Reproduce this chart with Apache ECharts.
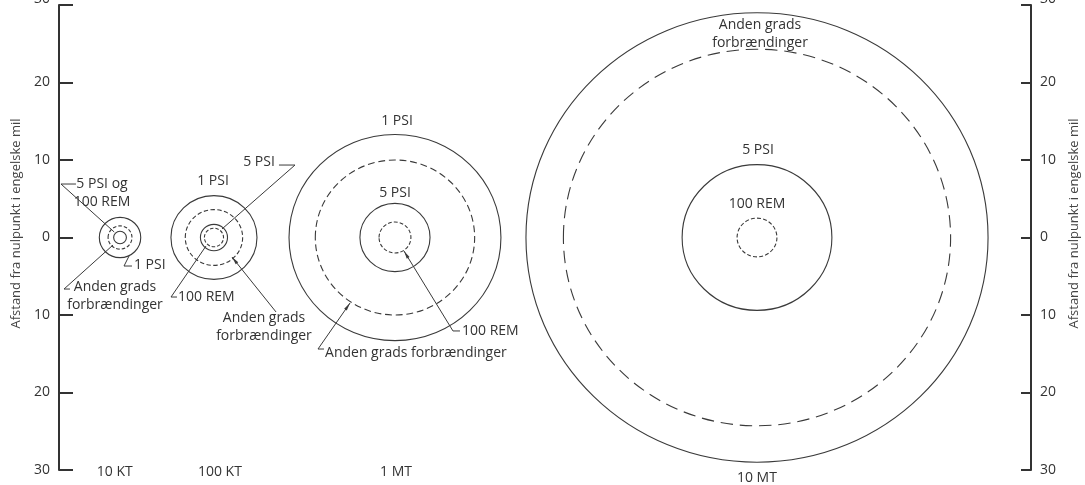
<!DOCTYPE html>
<html>
<head>
<meta charset="utf-8">
<script src="https://cdn.jsdelivr.net/npm/echarts@6/dist/echarts.min.js"></script>
<style>
html, body { margin: 0; padding: 0; background: #fff; }
#chart { width: 1085px; height: 485px; }
</style>
</head>
<body>
<div id="chart"></div>
<script>
// ladningsstørrelser og deres centre (engelske mil fra venstre akse)
const yields = ['10 KT', '100 KT', '1 MT', '10 MT'];
const centers = [7.66, 19.45, 42.17, 87.61];
const labelPos = [7.0, 20.2, 42.3, 87.6];

// radier i engelske mil (null = ingen ring)
const psi1 = [2.6, 5.4, 13.3, 29.0];     // 1 PSI, fuld streg
const burns = [1.5, 3.6, 10.0, 24.3];    // anden grads forbrændinger, stiplet
const psi5 = [0.8, 1.7, 4.4, 9.4];       // 5 PSI, fuld streg
const rem100 = [null, 1.2, 2.0, 2.5];    // 100 REM, stiplet (10 KT: falder sammen med 5 PSI)

const axisName = 'Afstand fra nulpunkt i engelske mil';

// tekster med henvisningsstreger, i mil
const notes = [
	{ text: '5 PSI og\n100 REM', at: [5.40, 5.68], align: 'center', leader: [[2.13, 6.90], [0.25, 6.90], [6.93, 0.71]] },
	{ text: '1 PSI', at: [9.41, -3.55], align: 'left', leader: [[8.79, -2.39], [8.16, -3.68], [9.16, -3.68]] },
	{ text: 'Anden grads\nforbrændinger', at: [7.03, -7.61], align: 'center', leader: [[6.78, -0.97], [0.63, -6.65], [1.38, -6.65]] },
	{ text: '1 PSI', at: [19.33, 7.29], align: 'center' },
	{ text: '5 PSI', at: [25.10, 9.74], align: 'center', leader: [[27.61, 9.35], [29.62, 9.35], [20.46, 1.10]] },
	{ text: '100 REM', at: [14.94, -7.68], align: 'left', leader: [[18.45, -1.10], [14.06, -7.68], [14.81, -7.68]] },
	{ text: 'Anden grads\nforbrændinger', at: [25.73, -11.61], align: 'center', leader: [[21.71, -2.52], [27.24, -9.61]], arrow: true },
	{ text: '1 PSI', at: [42.43, 15.03], align: 'center' },
	{ text: '5 PSI', at: [42.17, 5.74], align: 'center' },
	{ text: '100 REM', at: [50.58, -12.06], align: 'left', leader: [[43.3, -1.74], [49.45, -12.06], [50.33, -12.06]], arrow: true },
	{ text: 'Anden grads forbrændinger', at: [33.39, -14.90], align: 'left', leader: [[36.53, -8.45], [32.51, -14.39], [33.26, -14.39]], arrow: true },
	{ text: 'Anden grads\nforbrændinger', at: [87.99, 26.32], align: 'center' },
	{ text: '5 PSI', at: [87.74, 11.29], align: 'center' },
	{ text: '100 REM', at: [87.61, 4.32], align: 'center' }
];

const ink = '#333';
const font = '"Open Sans", sans-serif';

// ringe: [centrum, radius, stiplet 0/1]
const rings = [];
[[psi1, 0], [burns, 1], [psi5, 0], [rem100, 1]].forEach(([radii, dashed]) => {
	radii.forEach((r, i) => {
		if (r != null) rings.push([centers[i], r, dashed]);
	});
});

const renderRing = (params, api) => {
	const c = api.coord([api.value(0), 0]);
	const s = api.size([api.value(1), api.value(1)]);
	const dashed = api.value(2) === 1;
	const d = 3 + s[1] * 0.05;
	return {
		type: 'ellipse',
		shape: { cx: c[0], cy: c[1], rx: s[0], ry: s[1] },
		style: { fill: null, stroke: '#3a3a3a', lineWidth: 1.1, lineDash: dashed ? [d, d * 0.55] : null }
	};
};

const renderNote = (params, api) => {
	const n = notes[params.dataIndex];
	const p = api.coord(n.at);
	const children = [{
		type: 'text', x: p[0], y: p[1],
		style: { text: n.text, fill: ink, font: '14px ' + font, align: n.align, verticalAlign: 'middle', lineHeight: 18 }
	}];
	if (n.leader) {
		const pts = n.leader.map(q => api.coord(q));
		children.push({
			type: 'polyline',
			shape: { points: pts },
			style: { fill: null, stroke: '#3a3a3a', lineWidth: 1 }
		});
		if (n.arrow) {
			// lille pilespids ved ringen
			const [a, b] = pts;
			const len = Math.hypot(a[0] - b[0], a[1] - b[1]);
			const ux = (a[0] - b[0]) / len, uy = (a[1] - b[1]) / len;
			const bx = a[0] - ux * 8, by = a[1] - uy * 8;
			children.push({
				type: 'polygon',
				shape: { points: [a, [bx - uy * 1.6, by + ux * 1.6], [bx + uy * 1.6, by - ux * 1.6]] },
				style: { fill: '#3a3a3a' }
			});
		}
	}
	return { type: 'group', children };
};

const yAxisBase = (pos, tickLen, gap) => ({
	type: 'value',
	position: pos,
	min: -30,
	max: 30,
	interval: 10,
	name: axisName,
	nameLocation: 'middle',
	nameRotate: 90,
	nameGap: gap,
	nameTextStyle: { color: '#444', fontSize: 13, fontFamily: font, padding: [0, 0, 0, 28] },
	axisLine: { show: true, onZero: false, lineStyle: { color: ink, width: 2 } },
	axisTick: { show: true, inside: true, length: tickLen, lineStyle: { color: ink, width: 2 } },
	axisLabel: {
		margin: 9,
		color: ink,
		fontSize: 14,
		fontFamily: font,
		lineHeight: 12,
		// øverste 30 er skåret af i forlægget
		formatter: v => v === 30 ? '30\n\u00a0' : String(Math.abs(v))
	},
	splitLine: { show: false }
});

const chart = echarts.init(document.getElementById('chart'));
chart.setOption({
	animation: false,
	backgroundColor: '#fff',
	grid: { left: 59, right: 54, top: 5, bottom: 15, outerBoundsMode: 'none', containLabel: false },
	xAxis: {
		type: 'value',
		min: 0,
		max: 122,
		axisLine: { show: false, onZero: false },
		axisTick: { show: false },
		splitLine: { show: false },
		axisLabel: {
			customValues: labelPos,
			margin: 2,
			verticalAlign: 'middle',
			color: ink,
			fontSize: 14,
			fontFamily: font,
			formatter: v => {
				const i = labelPos.indexOf(v);
				const t = yields[i] || '';
				return t === '10 MT' ? '{low|' + t + '}' : t;
			},
			rich: { low: { fontSize: 14, fontFamily: font, color: ink, padding: [12, 0, 0, 0] } }
		}
	},
	yAxis: [yAxisBase('left', 14, 36), yAxisBase('right', 10, 37)],
	series: [
		{ type: 'custom', renderItem: renderRing, data: rings, silent: true },
		{ type: 'custom', renderItem: renderNote, data: notes.map(n => n.at), silent: true }
	]
});
</script>
</body>
</html>
